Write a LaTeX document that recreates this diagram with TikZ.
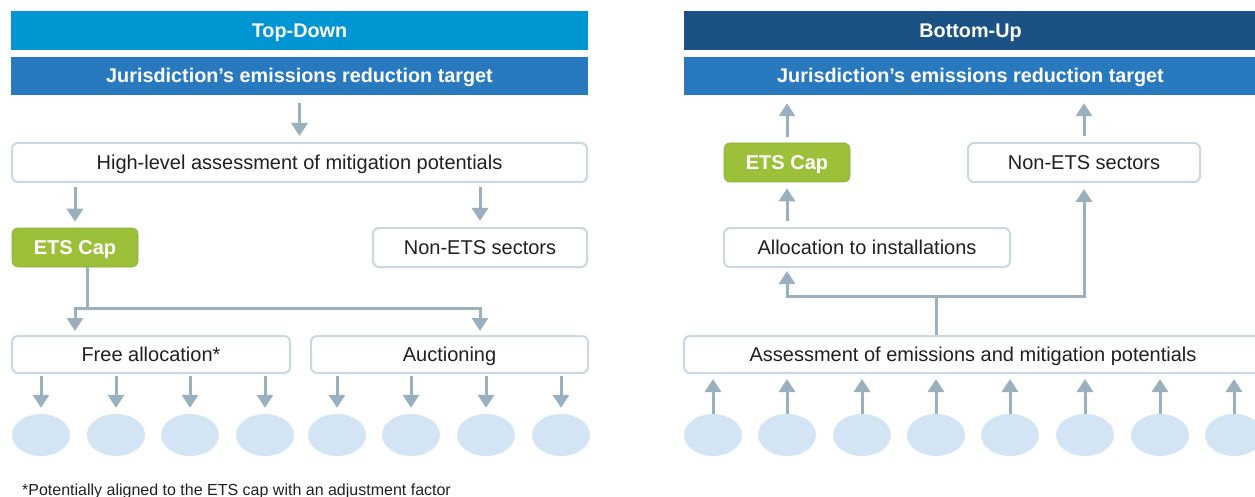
\documentclass[tikz,border=0pt]{standalone}
\usepackage{fontspec}
\setmainfont{Liberation Sans}
\usetikzlibrary{arrows.meta,shapes.geometric}
\definecolor{headcyan}{RGB}{0,149,211}
\definecolor{headnavy}{RGB}{26,82,134}
\definecolor{targetblue}{RGB}{40,121,190}
\definecolor{capgreen}{RGB}{156,192,58}
\definecolor{arrowgray}{RGB}{154,176,191}
\definecolor{boxline}{RGB}{201,216,226}
\definecolor{leaffill}{RGB}{211,229,245}
\definecolor{textdark}{RGB}{35,31,32}
\begin{document}
\begin{tikzpicture}[x=1pt,y=-1pt,
	bar/.style={inner sep=0pt,text=white,text height=14pt,text depth=0pt,font=\fontsize{19.8}{22}\selectfont\bfseries},
	stepbox/.style={draw=boxline,line width=2pt,rounded corners=6pt,fill=white,inner sep=0pt,
		text=textdark,text height=14pt,text depth=0pt,font=\fontsize{20}{22}\selectfont},
	capbox/.style={fill=capgreen,draw=capgreen!90!black,line width=0.6pt,rounded corners=6pt,inner sep=0pt,
		text=white,text height=14pt,text depth=0pt,font=\fontsize{20}{22}\selectfont\bfseries},
	leaf/.style={ellipse,fill=leaffill,inner sep=0pt,minimum width=58pt,minimum height=42pt},
	line/.style={draw=arrowgray,line width=3pt},
	arr/.style={line,-{Triangle[width=16pt,length=13pt]}}]
\useasboundingbox (0,0) rectangle (1255,497);
\clip (0,0) rectangle (1255,497);
%top-down
\node[bar,fill=headcyan,minimum width=577pt,minimum height=39pt] (tdhead) at (299.5,30.5) {Top-Down};
\node[bar,fill=targetblue,minimum width=577pt,minimum height=38pt] (tdtarget) at (299.5,76) {Jurisdiction’s emissions reduction target};
\node[stepbox,minimum width=575pt,minimum height=39pt] (tdassess) at (299.5,162.5) {High-level assessment of mitigation potentials};
\node[capbox,minimum width=126pt,minimum height=39pt] (tdcap) at (75,247.5) {ETS Cap};
\node[stepbox,minimum width=214pt,minimum height=39pt] (tdnon) at (480,247.5) {Non-ETS sectors};
\node[stepbox,minimum width=278pt,minimum height=37pt] (tdfree) at (151,354.5) {Free allocation*};
\node[stepbox,minimum width=277pt,minimum height=37pt] (tdauct) at (449.5,354.5) {Auctioning};
\coordinate (tdfork) at (87,308);
\draw[arr,shorten <=8pt,shorten >=6pt] (tdtarget) -- (tdassess);
\draw[arr,shorten <=4pt,shorten >=6pt] (tdassess.south -| tdcap) -- (tdcap.north);
\draw[arr,shorten <=4pt,shorten >=6pt] (tdassess.south -| tdnon) -- (tdnon.north);
\draw[line] (tdcap.south -| tdfork) -- (tdfork);
\draw[arr,shorten >=4pt] (tdfork) -| (tdfree.north -| tdcap);
\draw[arr,shorten >=4pt] (tdfork) -| (tdauct.north -| tdnon);
\foreach \x [count=\i] in {41,116,190,265} {
	\node[leaf] (tdleaf\i) at (\x,435) {};
	\draw[arr,shorten <=2pt,shorten >=6pt] (tdfree.south -| tdleaf\i) -- (tdleaf\i.north);
}
\foreach \x [count=\i from 5] in {337,411,486,561} {
	\node[leaf] (tdleaf\i) at (\x,435) {};
	\draw[arr,shorten <=2pt,shorten >=6pt] (tdauct.south -| tdleaf\i) -- (tdleaf\i.north);
}
\node[anchor=base west,inner sep=0pt,text=textdark,font=\fontsize{16}{18}\selectfont] (tdnote) at (22,495)
	{*Potentially aligned to the ETS cap with an adjustment factor};
%bottom-up
\node[bar,fill=headnavy,minimum width=573pt,minimum height=39pt] (buhead) at (970.5,30.5) {Bottom-Up};
\node[bar,fill=targetblue,minimum width=573pt,minimum height=38pt] (butarget) at (970.5,76) {Jurisdiction’s emissions reduction target};
\node[capbox,minimum width=126pt,minimum height=39pt] (bucap) at (787,162.5) {ETS Cap};
\node[stepbox,minimum width=232pt,minimum height=39pt] (bunon) at (1084,162.5) {Non-ETS sectors};
\node[stepbox,minimum width=286pt,minimum height=39pt] (bualloc) at (867,247.5) {Allocation to installations};
\node[stepbox,minimum width=578pt,minimum height=37pt] (buassess) at (973,354.5) {Assessment of emissions and mitigation potentials};
\coordinate (bufork) at (936,296);
\draw[arr,shorten <=6pt,shorten >=8pt] (bucap) -- (butarget.south -| bucap);
\draw[arr,shorten <=6pt,shorten >=8pt] (bunon) -- (butarget.south -| bunon);
\draw[arr,shorten <=6pt,shorten >=6pt] (bualloc.north -| bucap) -- (bucap.south);
\draw[line] (buassess.north -| bufork) -- (bufork);
\draw[arr,shorten >=3pt] (bufork) -| (bualloc.south -| bucap);
\draw[arr,shorten >=6pt] (bufork) -| (bunon.south);
\foreach \x [count=\i] in {713,787,862,936,1010,1085,1160,1234} {
	\node[leaf] (buleaf\i) at (\x,435) {};
	\draw[arr,shorten >=5pt] (buleaf\i.north) -- (buassess.south -| buleaf\i);
}
\end{tikzpicture}
\end{document}
